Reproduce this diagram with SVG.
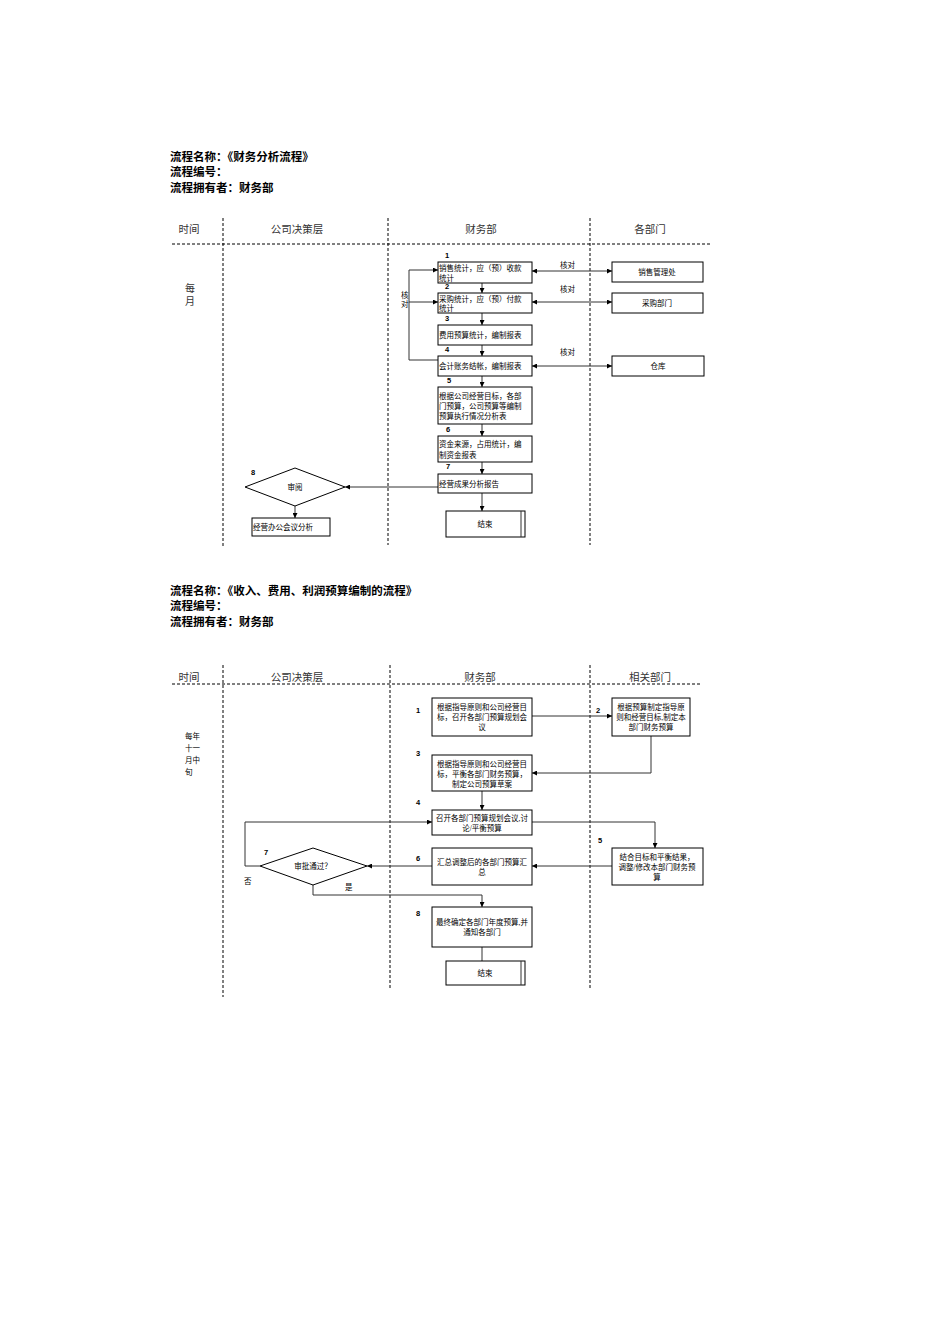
<svg xmlns="http://www.w3.org/2000/svg" width="950" height="1344" viewBox="0 0 950 1344">
<defs>
<marker id="a" viewBox="0 0 6 6" refX="6" refY="3" markerWidth="5" markerHeight="5" orient="auto-start-reverse"><path d="M0,0L6,3L0,6z" fill="#000"/></marker>
<style>
text{font-family:"Liberation Serif","Noto Sans CJK SC",serif;fill:#000}
.t{font-size:11.5px;font-weight:bold}
.h{font-size:10.5px;text-anchor:middle;fill:#333}
.s{font-size:7.5px}
.c{font-size:7.5px;text-anchor:middle}
.n{font-size:7.5px;font-weight:bold;font-family:"Liberation Sans",sans-serif}
.b{fill:#fff;stroke:#000;stroke-width:1}
.d{stroke:#000;stroke-width:1;stroke-dasharray:3,2;fill:none}
.l{stroke:#333;stroke-width:1;fill:none}
.m{marker-end:url(#a)}
</style>
</defs>
<rect width="950" height="1344" fill="#fff"/>
<g id="title1">
<text class="t" x="170" y="161">流程名称：《财务分析流程》</text>
<text class="t" x="170" y="176">流程编号：</text>
<text class="t" x="170" y="192">流程拥有者：财务部</text>
</g>
<g id="lanes1">
<text class="h" x="189" y="233">时间</text><text class="h" x="297" y="233">公司决策层</text><text class="h" x="481" y="233">财务部</text><text class="h" x="650" y="233">各部门</text>
<line class="d" x1="172" y1="244" x2="712" y2="244"/>
<line class="d" x1="223" y1="218" x2="223" y2="548"/>
<line class="d" x1="388" y1="218" x2="388" y2="545"/>
<line class="d" x1="590" y1="218" x2="590" y2="545"/>
<text class="h" x="190" y="292" style="font-size:10px">每</text><text class="h" x="190" y="305" style="font-size:10px">月</text>
</g>
<g id="connectors1">
<line class="l m" x1="482" y1="283" x2="482" y2="293"/>
<line class="l m" x1="482" y1="313" x2="482" y2="325"/>
<line class="l m" x1="482" y1="345" x2="482" y2="356"/>
<line class="l m" x1="482" y1="376" x2="482" y2="387"/>
<line class="l m" x1="482" y1="424" x2="482" y2="436"/>
<line class="l m" x1="482" y1="462" x2="482" y2="474"/>
<line class="l m" x1="482" y1="493" x2="482" y2="511"/>
<line class="l m" style="marker-start:url(#a)" x1="532" y1="271" x2="612" y2="271"/>
<line class="l m" style="marker-start:url(#a)" x1="532" y1="302" x2="612" y2="302"/>
<line class="l m" style="marker-start:url(#a)" x1="532" y1="366" x2="612" y2="366"/>
<text class="s" x="560" y="268">核对</text><text class="s" x="560" y="292">核对</text><text class="s" x="560" y="355">核对</text>
<polyline class="l m" points="438,360 409,360 409,270 438,270"/>
<line class="l m" x1="409" y1="302" x2="438" y2="302"/>
<text class="s" x="401" y="298">核</text><text class="s" x="401" y="307">对</text>
<line class="l m" x1="438" y1="487" x2="345" y2="487"/>
<line class="l m" x1="295" y1="506" x2="295" y2="518"/>
</g>
<g id="n1"><text class="n" x="445" y="258">1</text><rect class="b" x="438" y="262" width="94" height="21"/><text class="s" x="439" y="271">销售统计，应（预）收款</text><text class="s" x="439" y="281">统计</text></g>
<g id="n2"><text class="n" x="445" y="289">2</text><rect class="b" x="438" y="293" width="94" height="20"/><text class="s" x="439" y="302">采购统计，应（预）付款</text><text class="s" x="439" y="311">统计</text></g>
<g id="n3"><text class="n" x="445" y="321">3</text><rect class="b" x="438" y="325" width="94" height="20"/><text class="s" x="439" y="338">费用预算统计，编制报表</text></g>
<g id="n4"><text class="n" x="445" y="352">4</text><rect class="b" x="438" y="356" width="94" height="20"/><text class="s" x="439" y="369">会计账务结帐，编制报表</text></g>
<g id="n5"><text class="n" x="447" y="383">5</text><rect class="b" x="438" y="387" width="94" height="37"/><text class="s" x="439" y="399">根据公司经营目标，各部</text><text class="s" x="439" y="409">门预算，公司预算等编制</text><text class="s" x="439" y="419">预算执行情况分析表</text></g>
<g id="n6"><text class="n" x="446" y="432">6</text><rect class="b" x="438" y="436" width="94" height="26"/><text class="s" x="439" y="447">资金来源，占用统计，编</text><text class="s" x="439" y="458">制资金报表</text></g>
<g id="n7"><text class="n" x="446" y="469">7</text><rect class="b" x="438" y="474" width="94" height="19"/><text class="s" x="439" y="487">经营成果分析报告</text></g>
<g id="end1"><rect class="b" x="446" y="511" width="79" height="26"/><line class="l" x1="521" y1="511" x2="521" y2="537"/><text class="c" x="485" y="527">结束</text></g>
<g id="sales"><rect class="b" x="612" y="262" width="91" height="20"/><text class="c" x="657" y="275">销售管理处</text></g>
<g id="purch"><rect class="b" x="612" y="293" width="91" height="20"/><text class="c" x="657" y="306">采购部门</text></g>
<g id="wh"><rect class="b" x="612" y="356" width="92" height="20"/><text class="c" x="658" y="369">仓库</text></g>
<g id="n8"><text class="n" x="251" y="475">8</text><polygon class="b" points="245,487 295,468 345,487 295,506"/><text class="c" x="295" y="490">审阅</text></g>
<g id="meet"><rect class="b" x="252" y="518" width="78" height="18"/><text class="s" x="253" y="530">经营办公会议分析</text></g>

<g id="title2">
<text class="t" x="170" y="595">流程名称：《收入、费用、利润预算编制的流程》</text>
<text class="t" x="170" y="610">流程编号：</text>
<text class="t" x="170" y="626">流程拥有者：财务部</text>
</g>
<g id="lanes2">
<text class="h" x="189" y="681">时间</text><text class="h" x="297" y="681">公司决策层</text><text class="h" x="480" y="681">财务部</text><text class="h" x="650" y="681">相关部门</text>
<line class="d" x1="172" y1="684" x2="702" y2="684"/>
<line class="d" x1="223" y1="665" x2="223" y2="997"/>
<line class="d" x1="390" y1="665" x2="390" y2="990"/>
<line class="d" x1="590" y1="665" x2="590" y2="990"/>
<text class="s" x="185" y="739">每年</text><text class="s" x="185" y="751">十一</text><text class="s" x="185" y="763">月中</text><text class="s" x="185" y="775">旬</text>
</g>
<g id="connectors2">
<line class="l m" x1="532" y1="716" x2="612" y2="716"/>
<polyline class="l m" points="651,736 651,773 532,773"/>
<line class="l m" x1="482" y1="791" x2="482" y2="810"/>
<polyline class="l m" points="532,822 655,822 655,848"/>
<line class="l m" x1="612" y1="866" x2="532" y2="866"/>
<line class="l m" x1="432" y1="866" x2="367" y2="866"/>
<polyline class="l m" points="260,866 245,866 245,822 432,822"/>
<polyline class="l m" points="313,885 313,895 482,895 482,907"/>
<line class="l" x1="482" y1="947" x2="482" y2="961"/>
<text class="s" x="244" y="884">否</text><text class="s" x="345" y="890">是</text>
</g>
<g id="m1"><text class="n" x="416" y="713">1</text><rect class="b" x="432" y="698" width="100" height="38"/><text class="c" x="482" y="710">根据指导原则和公司经营目</text><text class="c" x="482" y="720">标，召开各部门预算规划会</text><text class="c" x="482" y="730">议</text></g>
<g id="m2"><text class="n" x="596" y="713">2</text><rect class="b" x="612" y="698" width="78" height="38"/><text class="c" x="651" y="710">根据预算制定指导原</text><text class="c" x="651" y="720">则和经营目标,制定本</text><text class="c" x="651" y="730">部门财务预算</text></g>
<g id="m3"><text class="n" x="416" y="756">3</text><rect class="b" x="432" y="755" width="100" height="36"/><text class="c" x="482" y="767">根据指导原则和公司经营目</text><text class="c" x="482" y="777">标，平衡各部门财务预算，</text><text class="c" x="482" y="787">制定公司预算草案</text></g>
<g id="m4"><text class="n" x="416" y="805">4</text><rect class="b" x="432" y="810" width="100" height="25"/><text class="c" x="482" y="821">召开各部门预算规划会议,讨</text><text class="c" x="482" y="831">论/平衡预算</text></g>
<g id="m5"><text class="n" x="598" y="843">5</text><rect class="b" x="612" y="848" width="91" height="37"/><text class="c" x="657" y="860">结合目标和平衡结果，</text><text class="c" x="657" y="870">调整/修改本部门财务预</text><text class="c" x="657" y="880">算</text></g>
<g id="m6"><text class="n" x="416" y="861">6</text><rect class="b" x="432" y="848" width="100" height="37"/><text class="c" x="482" y="865">汇总调整后的各部门预算汇</text><text class="c" x="482" y="875">总</text></g>
<g id="m7"><text class="n" x="264" y="855">7</text><polygon class="b" points="260,866 313,848 367,866 313,885"/><text class="c" x="313" y="869">审批通过？</text></g>
<g id="m8"><text class="n" x="416" y="916">8</text><rect class="b" x="432" y="907" width="100" height="40"/><text class="c" x="482" y="925">最终确定各部门年度预算,并</text><text class="c" x="482" y="935">通知各部门</text></g>
<g id="end2"><rect class="b" x="446" y="961" width="79" height="24"/><line class="l" x1="521" y1="961" x2="521" y2="985"/><text class="c" x="485" y="976">结束</text></g>
</svg>
